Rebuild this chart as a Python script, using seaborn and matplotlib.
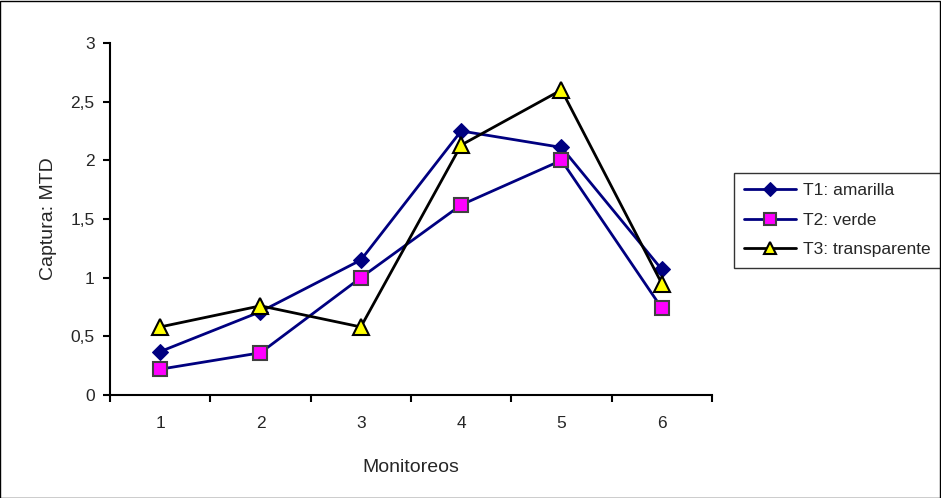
import matplotlib
matplotlib.use("Agg")
import matplotlib.pyplot as plt
import seaborn as sns
from matplotlib.patches import Rectangle

monitoreos = [1, 2, 3, 4, 5, 6]
t1_amarilla = [0.37, 0.71, 1.15, 2.25, 2.11, 1.07]
t2_verde = [0.22, 0.36, 1.00, 1.62, 2.00, 0.74]
t3_transparente = [0.58, 0.76, 0.58, 2.13, 2.60, 0.95]
y_ticks = [0, 0.5, 1, 1.5, 2, 2.5, 3]
y_tick_labels = ["0", "0,5", "1", "1,5", "2", "2,5", "3"]

sns.set_style("ticks")
plt.rcParams["font.family"] = ["Liberation Sans", "DejaVu Sans"]

fig = plt.figure(figsize=(9.41, 4.98), dpi=100)
ax = fig.add_axes([0.1169, 0.2068, 0.6397, 0.7069])

sns.lineplot(x=monitoreos, y=t1_amarilla, ax=ax, color="#000080", lw=2,
             marker="D", markersize=8, markerfacecolor="#000080",
             markeredgecolor="#000080", label="T1: amarilla")
sns.lineplot(x=monitoreos, y=t2_verde, ax=ax, color="#000080", lw=2,
             marker="s", markersize=10, markerfacecolor="#ff00ff",
             markeredgecolor="#404040", markeredgewidth=1.5, label="T2: verde")
sns.lineplot(x=monitoreos, y=t3_transparente, ax=ax, color="black", lw=2,
             marker="^", markersize=11, markerfacecolor="#ffff00",
             markeredgecolor="black", markeredgewidth=1.5, label="T3: transparente")

ax.set_xlim(0.5, 6.5)
ax.set_ylim(0, 3)
ax.set_yticks(y_ticks)
ax.set_yticklabels(y_tick_labels, fontsize=12.5)
ax.set_xticks([0.5 + i for i in range(7)])
ax.set_xticklabels([])
ax.set_xticks(monitoreos, minor=True)
ax.set_xticklabels([str(m) for m in monitoreos], minor=True, fontsize=12.5)
ax.tick_params(axis="x", which="minor", length=0, pad=15)
ax.tick_params(axis="both", which="major", length=5, width=1.5, color="black")
ax.tick_params(axis="y", pad=6)
for s in ["left", "bottom"]:
    ax.spines[s].set_linewidth(1.5)
    ax.spines[s].set_color("black")
sns.despine(ax=ax)

ax.set_xlabel("Monitoreos", fontsize=14, labelpad=20)
ax.set_ylabel("Captura: MTD", fontsize=14, labelpad=10)

leg = ax.legend(loc="upper left", bbox_to_anchor=(0.78, 0.653),
                bbox_transform=fig.transFigure, fontsize=12.5,
                frameon=True, fancybox=False, handlelength=3.0,
                handletextpad=0.35, borderpad=0.6, labelspacing=0.82,
                borderaxespad=0, markerscale=0.85)
leg.get_frame().set_edgecolor("black")
leg.get_frame().set_linewidth(1)

fig.patches.append(Rectangle((0.0005, 0.001), 0.998, 0.997, transform=fig.transFigure,
                             fill=False, edgecolor="black", linewidth=1))

fig.savefig("out.png", dpi=100)
